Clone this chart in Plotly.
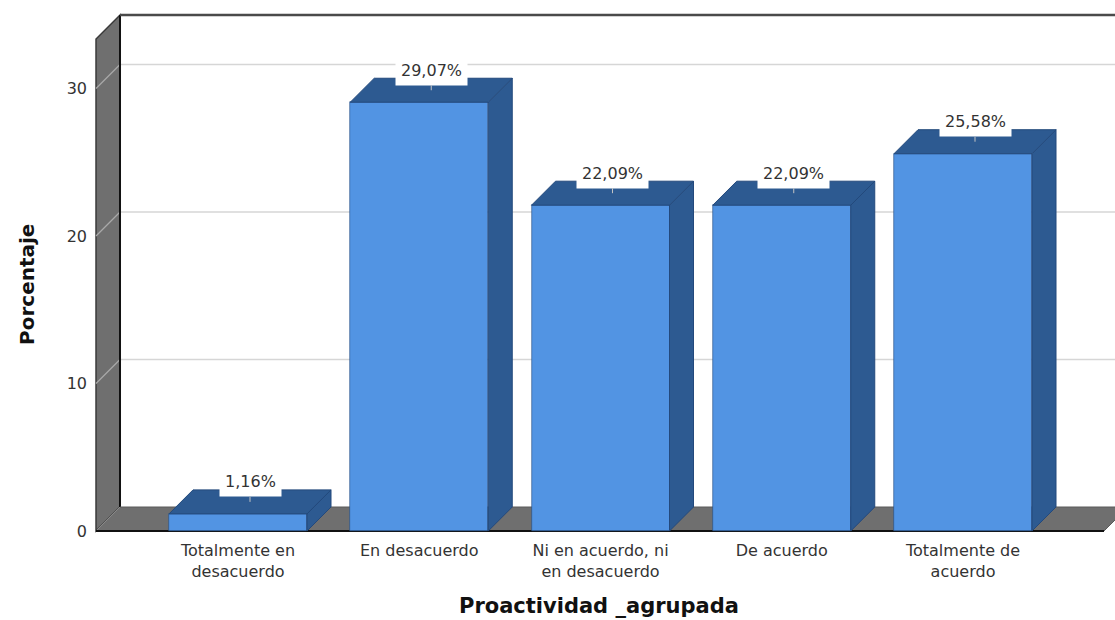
import plotly.graph_objects as go

# ---- data ----
categories = ["Totalmente en<br>desacuerdo", "En desacuerdo",
              "Ni en acuerdo, ni<br>en desacuerdo", "De acuerdo",
              "Totalmente de<br>acuerdo"]
values = [1.16, 29.07, 22.09, 22.09, 25.58]
value_labels = ["1,16%", "29,07%", "22,09%", "22,09%", "25,58%"]
y_ticks = [0, 10, 20, 30]

# ---- geometry (data units) ----
W, H = 1115, 620
ML, MR, MT, MB = 94, 0, 13, 87
X_RANGE = [-0.7945, 4.8386]
Y_RANGE = [-0.1356, 35.12]
DX, DY = 0.1324, 1.627          # depth offset of the 3D box
HW = 0.3807                      # half bar width
WALL_X = -0.7834                 # front edge of left wall
WALL_TOP = 33.36                 # front top of left wall
FLOOR_R = 4.778                  # front right of floor

FRONT = "#5294E3"
DARK = "#2D5A91"
EDGE = "#23497c"
GRAY = "#6f6f6f"
FONT = "DejaVu Sans"

xs = list(range(len(values)))
fig = go.Figure()

# front faces
fig.add_trace(go.Bar(x=xs, y=values, width=2 * HW, marker=dict(color=FRONT, line=dict(color=EDGE, width=0.6)),
                     hoverinfo="skip", showlegend=False))

# top and side faces
for c, v in zip(xs, values):
    top_x = [c - HW, c + HW, c + HW + DX, c - HW + DX, c - HW]
    top_y = [v, v, v + DY, v + DY, v]
    side_x = [c + HW, c + HW + DX, c + HW + DX, c + HW, c + HW]
    side_y = [0, DY, v + DY, v, 0]
    for px, py in ((side_x, side_y), (top_x, top_y)):
        fig.add_trace(go.Scatter(x=px, y=py, mode="lines", fill="toself", fillcolor=DARK,
                                 line=dict(color=EDGE, width=1), hoverinfo="skip", showlegend=False))

shapes = []
# back-wall gridlines
for t in y_ticks[1:]:
    shapes.append(dict(type="line", xref="x", yref="y", x0=WALL_X + DX, x1=X_RANGE[1] + 1,
                       y0=t + DY, y1=t + DY, line=dict(color="#d6d6d6", width=1.5), layer="below"))
# left wall
shapes.append(dict(type="path", xref="x", yref="y", layer="below",
                   path=f"M{WALL_X},0 L{WALL_X},{WALL_TOP} L{WALL_X + DX},{WALL_TOP + DY} L{WALL_X + DX},{DY} Z",
                   fillcolor=GRAY, line=dict(color="#3a3a3a", width=1.5)))
for t in y_ticks[1:]:
    shapes.append(dict(type="line", xref="x", yref="y", x0=WALL_X, x1=WALL_X + DX,
                       y0=t, y1=t + DY, line=dict(color="#a9a9a9", width=1.2), layer="below"))
shapes.append(dict(type="line", xref="x", yref="y", x0=WALL_X + DX, x1=WALL_X + DX,
                   y0=DY, y1=WALL_TOP + DY, line=dict(color="#111111", width=2), layer="below"))
# floor
shapes.append(dict(type="path", xref="x", yref="y", layer="below",
                   path=f"M{WALL_X},0 L{FLOOR_R},0 L{FLOOR_R + DX},{DY} L{WALL_X + DX},{DY} Z",
                   fillcolor=GRAY, line=dict(color="#5a5a5a", width=1)))
shapes.append(dict(type="line", xref="x", yref="y", x0=WALL_X, x1=WALL_X + DX, y0=0, y1=DY,
                   line=dict(color="#8a8a8a", width=1), layer="below"))
shapes.append(dict(type="line", xref="x", yref="y", x0=WALL_X, x1=FLOOR_R, y0=0, y1=0,
                   line=dict(color="#111111", width=2), layer="below"))
# top border of back wall
shapes.append(dict(type="line", xref="x", yref="y", x0=WALL_X + DX, x1=X_RANGE[1] + 1,
                   y0=WALL_TOP + DY, y1=WALL_TOP + DY, line=dict(color="#4a4a4a", width=2.5), layer="below"))

annotations = []
for c, v, lab in zip(xs, values, value_labels):
    annotations.append(dict(x=c + DX / 2, y=v + DY / 2, xref="x", yref="y", text=lab,
                            showarrow=True, arrowhead=0, arrowwidth=1, arrowcolor="#c4c4c4",
                            ax=0, ay=-20, bgcolor="white", borderpad=5,
                            font=dict(family=FONT, size=16, color="#333333")))
annotations.append(dict(text="<b>Proactividad _agrupada</b>", xref="paper", yref="paper",
                        x=0.4946, y=-0.1404, xanchor="center", yanchor="middle", showarrow=False,
                        font=dict(family=FONT, size=21, color="#111111")))
annotations.append(dict(text="<b>Porcentaje</b>", xref="paper", yref="paper", textangle=-90,
                        x=(27 - ML) / (W - ML - MR), y=0.477, xanchor="center", yanchor="middle",
                        showarrow=False, font=dict(family=FONT, size=20, color="#111111")))

fig.update_layout(
    width=W, height=H, margin=dict(l=ML, r=MR, t=MT, b=MB),
    paper_bgcolor="white", plot_bgcolor="white",
    shapes=shapes, annotations=annotations, showlegend=False, bargap=0,
    xaxis=dict(range=X_RANGE, tickvals=xs, ticktext=categories, showgrid=False, zeroline=False,
               showline=False, ticks="", ticklabelstandoff=6,
               tickfont=dict(family=FONT, size=16, color="#333333")),
    yaxis=dict(range=Y_RANGE, tickvals=y_ticks, showgrid=False, zeroline=False, showline=False,
               ticks="", ticklabelstandoff=6, tickfont=dict(family=FONT, size=16, color="#333333")),
)

fig.write_html("out.html")
